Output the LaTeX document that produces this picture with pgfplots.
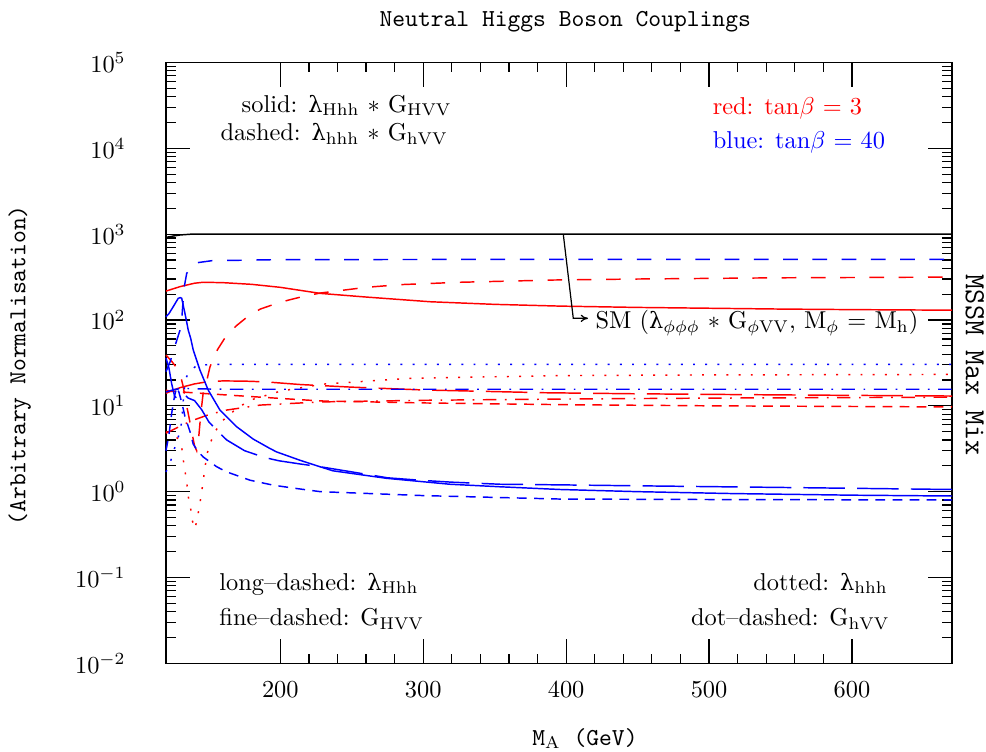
\documentclass[border=0pt]{standalone}
\usepackage{fontspec}
\usepackage{pgfplots}
\pgfplotsset{compat=1.18}
\usetikzlibrary{arrows.meta}
\newfontfamily\grk[Scale=0.92]{DejaVu Serif}
\newcommand{\ulam}{{\grk λ}}

\tikzset{
  sdash/.style={dash pattern=on 6pt off 6pt},
  ldash/.style={dash pattern=on 17pt off 5pt},
  fdash/.style={dash pattern=on 4pt off 3pt},
  ddash/.style={dash pattern=on 5.5pt off 3.5pt on 0.7pt off 3.5pt},
  sdot/.style={dash pattern=on 0.8pt off 4.2pt},
}

\begin{document}
\begin{tikzpicture}
\begin{axis}[
    scale only axis,
    width=322.3pt, height=246.4pt,
    xmin=120, xmax=670,
    ymode=log, ymin=1e-2, ymax=1e5,
    xtick={200,300,400,500,600},
    minor x tick num=4,
    ytick={1e-2,1e-1,1,10,100,1000,1e4,1e5},
    major tick length=10pt, minor tick length=4pt,
    tick style={black, line width=0.5pt},
    axis line style={line width=0.7pt},
    yticklabel style={xshift=-13pt},
    xticklabel style={yshift=-4pt},
    clip=false,
    every axis plot/.append style={line width=0.6pt},
]

% SM reference
\addplot[black] coordinates {(120,915) (125,950) (130,978) (138,1000) (670,1000)};

% ---- tan beta = 3 (red)
% solid: lambda_Hhh * G_HVV
\addplot[red] coordinates {(120,217) (130,245) (140,268) (146,275) (160,272) (180,260)
  (200,240) (228,204) (260,185) (305,163) (350,152) (396,145) (450,140) (500,137)
  (550,134) (600,132) (670,130)};
% dashed: lambda_hhh * G_hVV
\addplot[red, sdash] coordinates {(120,39) (124,33) (128,27) (130,23) (132,17) (134,11)
  (136,7.5) (138,5) (140,3.4) (141.5,3.0) (143,4.5) (144.5,8.5) (146,14) (148.5,19.5)
  (150.8,28.5) (156,45) (161.3,62) (169,85) (177,109) (186,134) (196,153) (206,171)
  (216,188) (228,206) (240,218) (260,240) (284,258) (326,275) (391,292) (450,300)
  (550,310) (670,316)};
% long-dashed: lambda_Hhh
\addplot[red, ldash] coordinates {(120,14) (125,15.2) (130,16.3) (140,18) (150,19.2)
  (160,19.5) (175,19.4) (190,19) (214,17.7) (250,16.5) (300,15.3) (385,14.2)
  (450,13.8) (550,13.4) (670,13.0)};
% fine-dashed: G_HVV
\addplot[red, fdash] coordinates {(120,15.2) (123,14.8) (150,13.8) (180,12.8) (228,11.4)
  (300,10.8) (400,10.3) (500,10.0) (670,9.7)};
% dotted: lambda_hhh
\addplot[red, sdot] coordinates {(120,5.0) (125,4.6) (128,4.2) (131,3.3) (132.1,2.35)
  (133.3,1.75) (134.5,1.28) (135.6,0.88) (137.3,0.63) (138.4,0.46) (140.3,0.37)
  (142.2,0.52) (143.8,0.74) (145,1.0) (146.1,1.37) (147.3,1.88) (148.5,2.66)
  (150.8,3.65) (155,5.2) (160,6.8) (170,9.5) (180,11.8) (200,14.8) (230,17.9)
  (290,20.9) (395,22.5) (500,22.9) (670,23.2)};
% dot-dashed: G_hVV
\addplot[red, ddash] coordinates {(120,4.8) (130,5.8) (138,6.7) (150,7.9) (162,8.9)
  (186,10.2) (228,11.1) (300,11.6) (400,12.0) (500,12.3) (670,12.6)};

% ---- tan beta = 40 (blue)
% solid
\addplot[blue] coordinates {(120,109) (122,118) (125.1,143) (128.6,179) (130,182)
  (131,179) (133.3,119) (135.6,76) (137.3,61) (139.1,44.6) (143.8,26) (149.6,15.2)
  (157.8,8.9) (169.5,5.7) (181,4.1) (192.8,3.18) (197.5,2.9) (213.8,2.32)
  (227.8,1.95) (236.8,1.75) (274.4,1.43) (318.7,1.22) (353.7,1.14) (395.7,1.06)
  (450,1.0) (516.7,0.95) (600,0.91) (670,0.89)};
% dashed
\addplot[blue, sdash] coordinates {(120,25) (123,33) (126,48) (129.8,76) (131,100)
  (132.6,234) (134.5,349) (137,400) (141.5,464) (152,490) (200,505) (400,508) (670,508)};
% long-dashed
\addplot[blue, ldash] coordinates {(120,36) (122,28) (124,18) (126,13) (128,12)
  (131,13.5) (134,13) (135.6,12.3) (140,11.5) (145,9) (150,6.5) (155,5.3)
  (162.5,4.0) (175,3.0) (189,2.5) (199,2.29) (214,2.1) (228,1.95) (250,1.7)
  (275,1.45) (300,1.35) (320,1.29) (354,1.22) (396,1.2) (450,1.17) (550,1.12) (670,1.06)};
% fine-dashed
\addplot[blue, fdash] coordinates {(120,3.0) (122,4.5) (124,8.2) (126,13) (127.5,16.5)
  (129,14.5) (131,11) (133.3,7.5) (136.8,5.0) (139,3.6) (142,3.0) (146,2.54)
  (155.5,1.95) (162.5,1.7) (178.8,1.36) (195,1.19) (211,1.09) (228,1.0) (300,0.9)
  (396,0.82) (500,0.81) (670,0.80)};
% dotted
\addplot[blue, sdot] coordinates {(120,1.7) (123,2.2) (126,3.2) (129.8,5.0) (131,6.5)
  (132.6,15) (134.5,22) (137,25.5) (141.5,29.5) (152,30.4) (670,30.4)};
% dot-dashed
\addplot[blue, ddash] coordinates {(120,14.5) (126,15.5) (132,16) (140,15.8) (160,15.6)
  (670,15.6)};

% annotations
\draw[-{To[length=3pt,width=3pt]}, line width=0.5pt]
  (axis cs:398,1000) -- (axis cs:405,104.5) -- (axis cs:415.3,104.5);
\node[anchor=base west, inner sep=0pt] at (rel axis cs:0.546,0.557)
  {SM (\ulam$_{\phi\phi\phi}$ $*$ G$_{\phi\mathrm{VV}}$, M$_{\phi}$ = M$_{\mathrm{h}}$)};

\node[anchor=base east, inner sep=0pt] at (rel axis cs:0.364,0.917)
  {solid: \ulam$_{\mathrm{Hhh}}$ $*$ G$_{\mathrm{HVV}}$};
\node[anchor=base east, inner sep=0pt] at (rel axis cs:0.359,0.870)
  {dashed: \ulam$_{\mathrm{hhh}}$ $*$ G$_{\mathrm{hVV}}$};

\node[anchor=base west, inner sep=0pt, text=red] at (rel axis cs:0.695,0.913)
  {red: tan$\beta$ = 3};
\node[anchor=base west, inner sep=0pt, text=blue] at (rel axis cs:0.695,0.857)
  {blue: tan$\beta$ = 40};

\node[anchor=base west, inner sep=0pt] at (rel axis cs:0.0674,0.1215)
  {long--dashed: \ulam$_{\mathrm{Hhh}}$};
\node[anchor=base west, inner sep=0pt] at (rel axis cs:0.0674,0.0632)
  {fine--dashed: G$_{\mathrm{HVV}}$};
\node[anchor=base east, inner sep=0pt] at (rel axis cs:0.919,0.1215)
  {dotted: \ulam$_{\mathrm{hhh}}$};
\node[anchor=base east, inner sep=0pt] at (rel axis cs:0.921,0.0632)
  {dot--dashed: G$_{\mathrm{hVV}}$};

% title and axis labels
\node[anchor=base, inner sep=0pt, font=\ttfamily] at (rel axis cs:0.508,1.06)
  {Neutral Higgs Boson Couplings};
\node[anchor=base, inner sep=0pt, font=\ttfamily] at (rel axis cs:0.533,-0.136)
  {M$_{\mathrm{A}}$ (GeV)};
\node[rotate=90, inner sep=0pt, font=\ttfamily] at (rel axis cs:-0.186,0.496)
  {(Arbitrary Normalisation)};
\node[rotate=-90, inner sep=0pt, font=\ttfamily\large] at (rel axis cs:1.029,0.496)
  {MSSM Max Mix};
\end{axis}
\pgfresetboundingbox
\useasboundingbox ([shift={(-68.06pt,-36.08pt)}]current axis.south west)
  rectangle ([shift={(13.94pt,25.6pt)}]current axis.north east);
\end{tikzpicture}
\end{document}
